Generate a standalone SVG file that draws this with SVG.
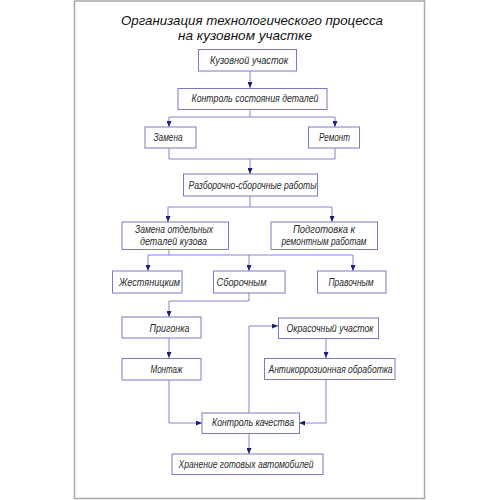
<svg xmlns="http://www.w3.org/2000/svg" width="500" height="500" viewBox="0 0 500 500">
<style>
.box{fill:#fff;stroke:#7b7bc4;stroke-width:1}
.ln{fill:none;stroke:#8585cc;stroke-width:1}
text{font-family:"Liberation Sans","DejaVu Sans",sans-serif;font-style:italic;fill:#2a2a2a;font-size:10px;text-anchor:middle}
.title{font-size:13px;fill:#111}
</style>
<defs>
<marker id="ah" markerUnits="userSpaceOnUse" markerWidth="6" markerHeight="5" refX="6" refY="2.5" orient="auto">
<path d="M0,0 L6,2.5 L0,5 z" fill="#1e1e78"/>
</marker>
</defs>
<rect x="0" y="0" width="500" height="500" fill="#fff"/>
<rect x="74.5" y="1" width="350" height="497.5" fill="none" stroke="#a8a8a8" stroke-width="1.5"/>
<g id="title">
<text class="title" x="252" y="24.5" textLength="262" lengthAdjust="spacingAndGlyphs">Организация технологического процесса</text>
<text class="title" x="245" y="40" textLength="134" lengthAdjust="spacingAndGlyphs">на кузовном участке</text>
</g>
<g id="connectors">
<path class="ln" d="M250 71 V88" marker-end="url(#ah)"/>
<path class="ln" d="M250 109 V117 H169 V127" marker-end="url(#ah)"/>
<path class="ln" d="M250 117 H335 V127" marker-end="url(#ah)"/>
<path class="ln" d="M169 148 V159 H250 V174" marker-end="url(#ah)"/>
<path class="ln" d="M335 148 V159 H250"/>
<path class="ln" d="M250 196 V207 H168 V222" marker-end="url(#ah)"/>
<path class="ln" d="M250 207 H332 V222" marker-end="url(#ah)"/>
<path class="ln" d="M169 249 V255 H148 V271" marker-end="url(#ah)"/>
<path class="ln" d="M169 255 H249 V271" marker-end="url(#ah)"/>
<path class="ln" d="M249 255 H353 V271" marker-end="url(#ah)"/>
<path class="ln" d="M249 293 V301 H169 V317" marker-end="url(#ah)"/>
<path class="ln" d="M169 338 V358" marker-end="url(#ah)"/>
<path class="ln" d="M169 380 V423 H202" marker-end="url(#ah)"/>
<path class="ln" d="M249 413 V326 H278" marker-end="url(#ah)"/>
<path class="ln" d="M326 338 V358" marker-end="url(#ah)"/>
<path class="ln" d="M326 379 V423 H299" marker-end="url(#ah)"/>
<path class="ln" d="M249 433 V454" marker-end="url(#ah)"/>
</g>
<g id="n1"><rect class="box" x="198.5" y="49.5" width="98" height="21.5"/><text x="249" y="63.5" textLength="78" lengthAdjust="spacingAndGlyphs">Кузовной участок</text></g>
<g id="n2"><rect class="box" x="178" y="88.5" width="149" height="21"/><text x="255" y="102" textLength="127" lengthAdjust="spacingAndGlyphs">Контроль состояния деталей</text></g>
<g id="n3"><rect class="box" x="145" y="127" width="51" height="21"/><text x="168" y="141" textLength="29" lengthAdjust="spacingAndGlyphs">Замена</text></g>
<g id="n4"><rect class="box" x="308.5" y="127" width="51" height="21"/><text x="334.5" y="141" textLength="31" lengthAdjust="spacingAndGlyphs">Ремонт</text></g>
<g id="n5"><rect class="box" x="183.5" y="174" width="134" height="22"/><text x="252.5" y="188.5" textLength="128" lengthAdjust="spacingAndGlyphs">Разборочно-сборочные работы</text></g>
<g id="n6"><rect class="box" x="122" y="222" width="106.5" height="27.5"/><text x="174" y="232.5" textLength="78" lengthAdjust="spacingAndGlyphs">Замена отдельных</text><text x="173.5" y="245" textLength="67" lengthAdjust="spacingAndGlyphs">деталей кузова</text></g>
<g id="n7"><rect class="box" x="271" y="222" width="106.5" height="27.5"/><text x="324" y="232.5" textLength="62" lengthAdjust="spacingAndGlyphs">Подготовка к</text><text x="324" y="245" textLength="85" lengthAdjust="spacingAndGlyphs">ремонтным работам</text></g>
<g id="n8"><rect class="box" x="112.5" y="271" width="69.5" height="22"/><text x="149.5" y="286" textLength="61" lengthAdjust="spacingAndGlyphs">Жестяницким</text></g>
<g id="n9"><rect class="box" x="213.5" y="271" width="71.5" height="22"/><text x="241.5" y="286" textLength="50" lengthAdjust="spacingAndGlyphs">Сборочным</text></g>
<g id="n10"><rect class="box" x="317.5" y="271" width="68.5" height="22"/><text x="351" y="286" textLength="45" lengthAdjust="spacingAndGlyphs">Правочным</text></g>
<g id="n11"><rect class="box" x="122" y="317" width="79" height="21"/><text x="169.5" y="331.5" textLength="40" lengthAdjust="spacingAndGlyphs">Пригонка</text></g>
<g id="n12"><rect class="box" x="122" y="358.5" width="79" height="21.5"/><text x="166.5" y="373" textLength="32" lengthAdjust="spacingAndGlyphs">Монтаж</text></g>
<g id="n13"><rect class="box" x="278.5" y="318" width="100" height="20.5"/><text x="330" y="332" textLength="87" lengthAdjust="spacingAndGlyphs">Окрасочный участок</text></g>
<g id="n14"><rect class="box" x="264.5" y="358.5" width="130.5" height="21"/><text x="330.5" y="373" textLength="124" lengthAdjust="spacingAndGlyphs">Антикоррозионная обработка</text></g>
<g id="n15"><rect class="box" x="202" y="413" width="97.5" height="20.5"/><text x="253" y="426" textLength="82" lengthAdjust="spacingAndGlyphs">Контроль качества</text></g>
<g id="n16"><rect class="box" x="172" y="454" width="151" height="20.5"/><text x="246" y="467.5" textLength="135" lengthAdjust="spacingAndGlyphs">Хранение готовых автомобилей</text></g>
</svg>
